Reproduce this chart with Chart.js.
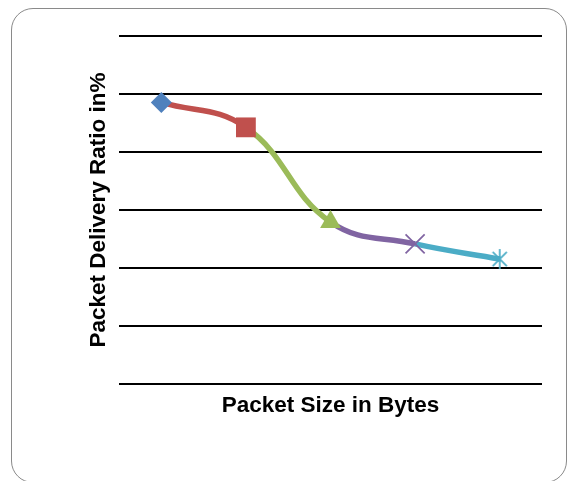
<!DOCTYPE html>
<html>
<head>
<meta charset="utf-8">
<script src="https://cdn.jsdelivr.net/npm/chart.js@4/dist/chart.umd.min.js"></script>
<style>
  html, body { margin: 0; padding: 0; background: #fff; overflow: hidden; }
  #frame {
    position: absolute; left: 11px; top: 8px; width: 556px; height: 475px;
    border: 1.6px solid #8a8a8a; border-radius: 22px; box-sizing: border-box;
  }
  #chart { position: absolute; left: 0; top: 0; }
</style>
</head>
<body>
<div id="frame"></div>
<canvas id="chart" width="568" height="481"></canvas>
<script>
// Packet delivery ratio against packet size
const packetSizes = ['64', '128', '256', '512', '1024'];
const deliveryRatio = [97.1, 88.5, 55.9, 48.3, 43.1];
const yTicks = [0, 20, 40, 60, 80, 100, 120];

// one colour per point; each line segment takes the colour of the point it runs into
const pointColors = ['#4F81BD', '#C0504D', '#9BBB59', '#8064A2', '#4BACC6'];

// asterisk marker: vertical stroke plus a diagonal cross
function asteriskMarker(color, size) {
  const c = document.createElement('canvas');
  c.width = size; c.height = size;
  const g = c.getContext('2d');
  const m = size / 2, r = size / 2 - 1;
  const d = r * Math.SQRT1_2;
  g.strokeStyle = color; g.lineWidth = 1.7;
  g.beginPath();
  g.moveTo(m, m - r); g.lineTo(m, m + r);
  g.moveTo(m - d, m - d); g.lineTo(m + d, m + d);
  g.moveTo(m - d, m + d); g.lineTo(m + d, m - d);
  g.stroke();
  return c;
}

const titleFont = { family: '"Liberation Sans", Arial, sans-serif', size: 22.5, weight: 'bold' };

new Chart(document.getElementById('chart'), {
  type: 'line',
  data: {
    labels: packetSizes,
    datasets: [{
      data: deliveryRatio,
      borderWidth: 5.5,
      tension: 0.42,
      segment: { borderColor: ctx => pointColors[ctx.p1DataIndex] },
      borderColor: pointColors[1],
      pointStyle: ['rectRot', 'rect', 'triangle', 'crossRot', asteriskMarker(pointColors[4], 22)],
      pointRadius: [10.5, 14, 12, 13.5, 11],
      pointHoverRadius: [10.5, 14, 12, 13.5, 11],
      pointBackgroundColor: pointColors,
      pointBorderColor: pointColors,
      pointBorderWidth: [0, 0, 0, 1.7, 0]
    }]
  },
  options: {
    responsive: false,
    animation: false,
    events: [],
    layout: { autoPadding: false, padding: { left: 80, right: 26, top: 36, bottom: 57.5 } },
    plugins: { legend: { display: false }, tooltip: { enabled: false } },
    scales: {
      x: {
        type: 'category',
        offset: true,
        grid: { display: false, drawTicks: false },
        border: { display: false },
        ticks: { display: false },
        title: { display: true, text: 'Packet Size in Bytes', color: '#000', font: titleFont, padding: { top: 0, bottom: 4 } },
        afterFit: s => { s.height = 39.5; }
      },
      y: {
        min: yTicks[0],
        max: yTicks[yTicks.length - 1],
        afterBuildTicks: s => { s.ticks = yTicks.map(v => ({ value: v })); },
        grid: { color: '#000', lineWidth: 2, drawTicks: false },
        border: { display: false },
        ticks: { display: false },
        title: { display: true, text: 'Packet Delivery Ratio in%', color: '#000', font: titleFont, padding: { top: 5.5, bottom: 0 } },
        afterFit: s => { s.width = 39; }
      }
    }
  }
});
</script>
</body>
</html>
